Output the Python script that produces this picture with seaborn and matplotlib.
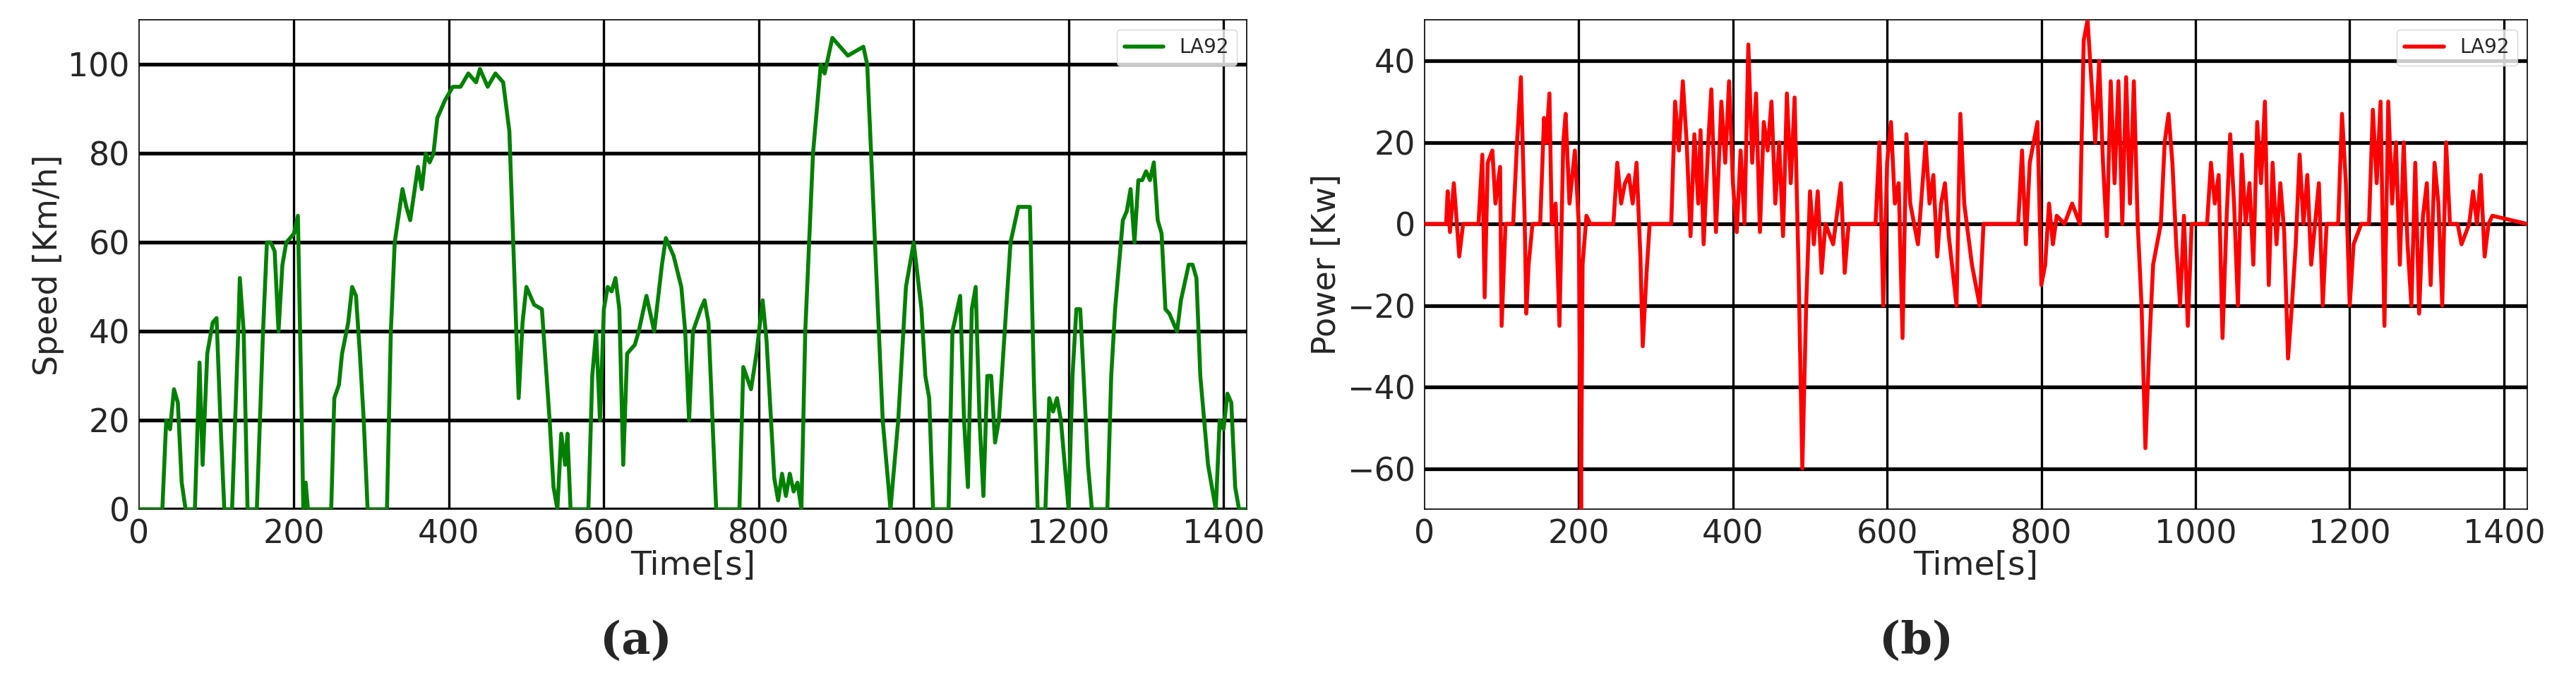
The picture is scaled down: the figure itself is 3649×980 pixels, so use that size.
import matplotlib
matplotlib.use("Agg")
import matplotlib.pyplot as plt
import seaborn as sns
import pandas as pd

speed_t = [0,30,35,40,45,50,55,60,72,78,82,88,95,100,105,110,120,128,130,135,140,152,160,165,170,175,180,185,190,200,205,210,212,215,218,248,252,258,262,270,275,280,285,290,295,320,325,330,340,345,350,360,365,370,375,380,385,395,405,415,425,435,440,450,460,470,478,485,490,495,500,505,510,520,530,535,540,545,550,553,557,580,585,590,595,600,605,610,615,620,625,630,640,645,655,665,675,680,690,700,705,710,715,725,730,735,745,775,780,790,797,805,810,820,825,830,835,840,845,850,855,860,870,880,885,895,905,915,925,935,940,950,960,970,980,990,1000,1010,1015,1020,1025,1045,1050,1060,1065,1070,1075,1080,1085,1090,1095,1100,1105,1110,1125,1135,1140,1150,1155,1160,1170,1175,1180,1185,1190,1200,1205,1210,1215,1225,1230,1250,1255,1260,1270,1275,1280,1285,1290,1295,1300,1305,1310,1315,1320,1325,1330,1340,1345,1355,1360,1365,1370,1380,1390,1395,1400,1405,1410,1415,1420,1430]
speed_v = [0,0,20,18,27,24,6,0,0,33,10,35,42,43,20,0,0,40,52,40,0,0,40,60,60,58,40,55,60,62,66,20,0,6,0,0,25,28,35,42,50,48,35,20,0,0,40,60,72,68,65,77,72,80,78,80,88,92,95,95,98,96,99,95,98,96,85,50,25,42,50,48,46,45,20,5,0,17,10,17,0,0,30,40,20,45,50,49,52,45,10,35,37,40,48,40,55,61,57,50,40,20,40,45,47,42,0,0,32,27,35,47,38,7,2,8,3,8,4,6,0,40,80,100,98,106,104,102,103,104,100,60,20,0,20,50,60,45,30,25,0,0,40,48,20,5,45,50,20,3,30,30,15,20,60,68,68,68,30,0,0,25,22,25,20,0,30,45,45,10,0,0,30,45,65,67,72,60,74,74,76,74,78,65,62,45,44,40,47,55,55,52,30,10,0,20,18,26,24,5,0,0]

power_t = [0,28,30,33,38,42,45,50,70,75,78,82,88,92,98,100,105,115,120,125,130,132,135,140,150,155,158,162,165,170,175,180,183,188,195,200,203,205,210,215,245,250,255,260,265,270,275,280,283,288,292,320,325,330,335,340,345,350,355,358,362,368,372,378,385,390,395,400,405,410,415,420,425,430,435,440,445,450,455,460,465,470,475,480,485,490,495,500,505,510,515,520,530,540,545,550,585,590,595,600,605,610,615,620,625,630,640,650,655,660,665,670,675,680,690,695,700,710,720,725,770,775,780,785,795,800,805,810,815,820,830,840,850,855,860,865,870,875,880,885,890,895,900,905,910,915,920,925,930,935,940,945,955,960,965,970,975,980,985,990,995,1015,1020,1025,1030,1035,1040,1045,1050,1055,1060,1065,1070,1075,1080,1085,1090,1095,1100,1105,1110,1115,1120,1125,1130,1135,1140,1145,1150,1155,1160,1165,1170,1185,1190,1195,1200,1205,1215,1225,1230,1235,1240,1245,1250,1255,1260,1265,1270,1275,1280,1285,1290,1295,1300,1305,1310,1315,1320,1325,1330,1340,1345,1355,1360,1365,1370,1375,1380,1385,1430]
power_v = [0,0,8,-2,10,0,-8,0,0,17,-18,15,18,5,14,-25,0,0,20,36,0,-22,-10,0,0,26,20,32,0,5,-25,20,27,5,18,0,-70,-10,2,0,0,15,5,10,12,5,15,-8,-30,-12,0,0,30,18,35,20,-3,22,5,23,-5,20,33,-2,30,15,35,10,-2,18,0,44,15,32,-2,25,18,30,5,20,-3,32,10,31,-10,-60,-20,8,-5,8,-12,0,-5,10,-12,0,0,20,-20,15,25,5,10,-28,22,5,-5,20,5,12,-8,5,10,-3,-20,27,5,-10,-20,0,0,18,-5,15,25,-15,-10,5,-5,2,0,5,0,45,50,35,20,40,15,-3,35,10,35,0,36,5,35,0,-20,-55,-30,-10,0,20,27,15,-5,-20,2,-25,0,0,15,5,12,-28,0,22,5,-20,17,0,10,-10,25,10,30,-15,15,-5,10,-2,-33,-20,-5,17,0,12,-10,0,10,-20,0,0,27,10,-20,-5,0,0,28,10,30,-25,30,5,20,-10,20,-5,-20,15,-22,2,10,-15,15,5,-20,20,0,0,-5,0,8,0,12,-8,0,2,0]

legend_label = "LA92"
df_s = pd.DataFrame({"Time[s]": speed_t, "Speed [Km/h]": speed_v, "cycle": legend_label})
df_p = pd.DataFrame({"Time[s]": power_t, "Power [Kw]": power_v, "cycle": legend_label})

sns.set_style("white")
plt.rcParams['font.family'] = ['DejaVu Sans']
fig = plt.figure(figsize=(36.49, 9.8), dpi=100)
ax1 = fig.add_axes([0.054, 0.264, 0.430, 0.707])
ax2 = fig.add_axes([0.553, 0.264, 0.428, 0.707])

def style(ax, ylim, yticks, ylabel):
    ax.set_xlim(0, 1430)
    ax.set_ylim(*ylim)
    ax.set_xticks([0,200,400,600,800,1000,1200,1400])
    ax.set_yticks(yticks)
    ax.tick_params(labelsize=33, length=6, width=1.5)
    ax.grid(False)
    for x in [200,400,600,800,1000,1200,1400]:
        ax.axvline(x, color='black', lw=2.4, zorder=0)
    for y in yticks:
        ax.axhline(y, color='black', lw=3.8, zorder=0)
    ax.set_xlabel("Time[s]", fontsize=34, labelpad=0)
    ax.set_ylabel(ylabel, fontsize=33)
    for s in ax.spines.values():
        s.set_color('black'); s.set_linewidth(1.2)
    leg = ax.legend(loc='upper right', fontsize=20, frameon=True)
    leg.get_frame().set_edgecolor('#cccccc')

sns.lineplot(data=df_s, x="Time[s]", y="Speed [Km/h]", hue="cycle", palette=["green"], lw=4, ax=ax1, zorder=3)
style(ax1, (0, 110), [0,20,40,60,80,100], "Speed [Km/h]")
sns.lineplot(data=df_p, x="Time[s]", y="Power [Kw]", hue="cycle", palette=["red"], lw=4, ax=ax2, zorder=3)
style(ax2, (-70, 50), [-60,-40,-20,0,20,40], "Power [Kw]")

fig.text(0.247, 0.055, "(a)", fontsize=46, ha='center', family='DejaVu Serif', fontweight='bold')
fig.text(0.744, 0.055, "(b)", fontsize=46, ha='center', family='DejaVu Serif', fontweight='bold')
fig.savefig("out.png", dpi=100)
